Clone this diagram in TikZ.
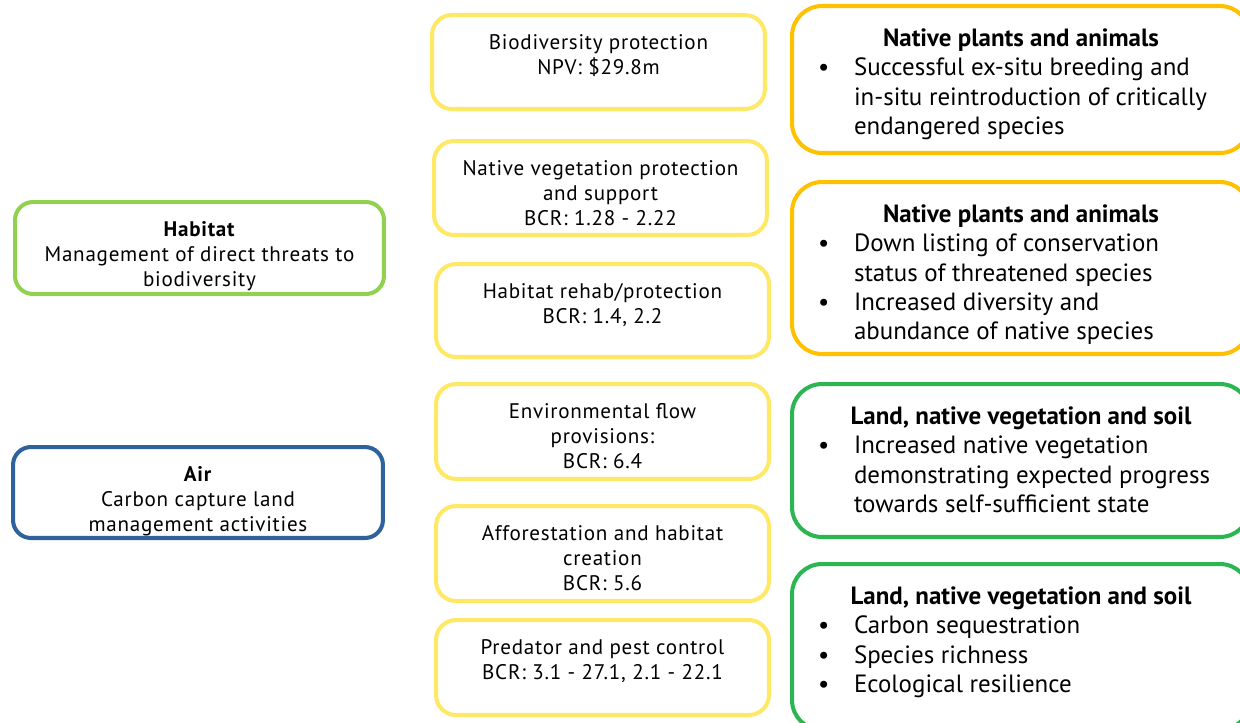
\documentclass[tikz,border=0pt]{standalone}
\usepackage{fontspec}
\setmainfont{PT Sans}
\newfontfamily\widesans[LetterSpace=3.5]{PT Sans}
\usepackage{tikz}
\usetikzlibrary{positioning}
\definecolor{habitatGreen}{RGB}{146,208,80}
\definecolor{airBlue}{RGB}{47,98,155}
\definecolor{leverYellow}{RGB}{255,232,102}
\definecolor{outcomeOrange}{RGB}{255,192,0}
\definecolor{outcomeGreen}{RGB}{44,182,82}
% text inside the boxes, first line at the top
\newcommand{\boxtext}[3]{\parbox[c][#2][t]{#1}{\centering #3}}
\newcommand{\outtext}[2]{\parbox[c][#1][t]{8.12cm}{#2}}
\newcommand{\outtitle}[1]{{\centering\bfseries #1\par}}
\newcommand{\outitem}[1]{\noindent\hangindent=0.72cm\hangafter=1\makebox[0.72cm][l]{\textbullet}#1\par}

\begin{document}
\begin{tikzpicture}[
        x=0.02cm, y=-0.02cm,
        basebox/.style={draw, line width=2.3pt, anchor=north west, inner xsep=0.2cm, inner ysep=0.39cm},
        themebox/.style={basebox, rounded corners=0.36cm, font=\widesans\fontsize{12}{14.2}\selectfont},
        leverbox/.style={basebox, draw=leverYellow, rounded corners=0.4cm, font=\widesans\fontsize{12}{14.2}\selectfont},
        outbox/.style={basebox, rounded corners=0.6cm, inner xsep=0.52cm, inner ysep=0.46cm, font=\fontsize{14.2}{16.6}\selectfont}
      ]
        \useasboundingbox (0,0) rectangle (1240,723);
        \clip (0,0) rectangle (1240,723);
        % Themes (left)
        \node[themebox, draw=habitatGreen] (habitat) at (13,200)
          {\boxtext{6.98cm}{1.06cm}{\textbf{Habitat}\\Management of direct threats to\\biodiversity}};
        \node[themebox, draw=airBlue] (air) at (11,445)
          {\boxtext{7.0cm}{1.04cm}{\textbf{Air}\\Carbon capture land\\management activities}};
        % Activities (middle)
        \node[leverbox] (bio) at (430,13)
          {\boxtext{6.26cm}{1.1cm}{Biodiversity protection\\NPV: \$29.8m}};
        \node[leverbox] (veg) at (432,139)
          {\boxtext{6.26cm}{1.1cm}{Native vegetation protection\\and support\\BCR: 1.28 - 2.22}};
        \node[leverbox] (rehab) at (434,262)
          {\boxtext{6.26cm}{1.08cm}{Habitat rehab/protection\\BCR: 1.4, 2.2}};
        \node[leverbox] (flow) at (434,382)
          {\boxtext{6.26cm}{1.12cm}{Environmental flow\\provisions:\\BCR: 6.4}};
        \node[leverbox] (affor) at (434,504)
          {\boxtext{6.26cm}{1.12cm}{Afforestation and habitat\\creation\\BCR: 5.6}};
        \node[leverbox] (pest) at (434,618)
          {\boxtext{6.26cm}{1.12cm}{Predator and pest control\\BCR: 3.1 - 27.1, 2.1 - 22.1}};
        % Outcomes (right)
        \node[outbox, draw=outcomeOrange] (plants1) at (790,4)
          {\outtext{2.02cm}{\outtitle{Native plants and animals}
            \outitem{Successful ex-situ breeding and\newline in-situ reintroduction of critically\newline endangered species}}};
        \node[outbox, draw=outcomeOrange] (plants2) at (790,180)
          {\outtext{2.52cm}{\outtitle{Native plants and animals}
            \outitem{Down listing of conservation\newline status of threatened species}
            \outitem{Increased diversity and\newline abundance of native species}}};
        \node[outbox, draw=outcomeGreen] (land1) at (790,382)
          {\outtext{2.14cm}{\outtitle{Land, native vegetation and soil}
            \outitem{Increased native vegetation\newline demonstrating expected progress\newline towards self-sufficient state}}};
        \node[outbox, draw=outcomeGreen] (land2) at (790,562)
          {\outtext{2.4cm}{\outtitle{Land, native vegetation and soil}
            \outitem{Carbon sequestration}
            \outitem{Species richness}
            \outitem{Ecological resilience}}};
      \end{tikzpicture}
\end{document}
